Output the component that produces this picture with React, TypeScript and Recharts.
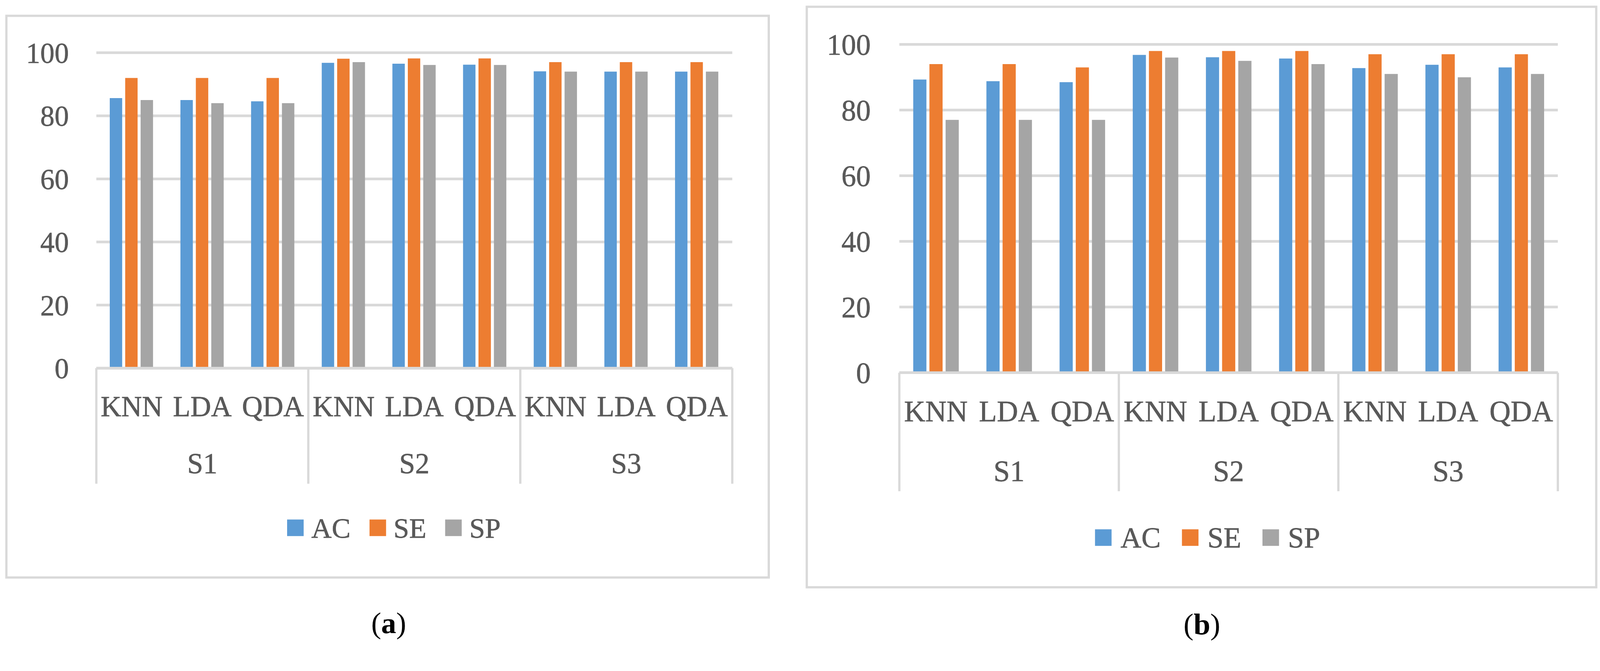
import React from "react";
import { BarChart, Bar, XAxis, YAxis, CartesianGrid, Legend } from "recharts";

const groups = ["S1", "S2", "S3"];
const models = ["KNN", "LDA", "QDA"];
const yTicks = [0, 20, 40, 60, 80, 100];
const seriesNames = ["AC", "SE", "SP"];
const seriesColors = ["#5b9bd5", "#ed7d31", "#a5a5a5"];

// panel (a)
const acA = [85.6, 85.0, 84.6, 96.8, 96.5, 96.2, 94.1, 94.0, 94.0];
const seA = [92, 92, 92, 98.1, 98.2, 98.2, 97, 97, 97];
const spA = [85, 84, 84, 97, 96.1, 96.1, 94, 94, 94];

// panel (b)
const acB = [89.3, 88.8, 88.5, 96.8, 96.1, 95.7, 92.8, 93.8, 93.0];
const seB = [94, 94, 93, 98, 98, 98, 97, 97, 97];
const spB = [77, 77, 77, 96, 95, 94, 91, 90, 91];

const GRID = "#d9d9d9";
const TEXT = "#595959";
const FONT = "'Liberation Serif', 'Times New Roman', serif";
const PAGE_W = 4252;
const PAGE_H = 1717;

function buildRows(ac: number[], se: number[], sp: number[]) {
  return groups.flatMap((g, gi) =>
    models.map((m, mi) => {
      const i = gi * models.length + mi;
      return { group: g, model: m, AC: ac[i], SE: se[i], SP: sp[i] };
    })
  );
}

type Cfg = {
  box: { left: number; top: number; width: number; height: number };
  margin: { top: number; right: number; bottom: number; left: number };
  yWidth: number;
  yTickMargin: number;
  xHeight: number;
  fontSize: number;
  legendFont: number;
  rowY: number;
  groupY: number;
  sepLen: number;
  legendY: number;
  legendShift: number;
  legendGap: number;
  legendTextGap: number;
  caption: string;
  captionX: number;
  captionY: number;
};

const cfgA: Cfg = {
  box: { left: 14, top: 39, width: 2032, height: 1498 },
  margin: { top: 101, right: 100, bottom: 229, left: 0 },
  yWidth: 242,
  yTickMargin: 73,
  xHeight: 330,
  fontSize: 76,
  legendFont: 75,
  rowY: 102,
  groupY: 254,
  sepLen: 307,
  legendY: 1363,
  legendShift: 17,
  legendGap: 50,
  legendTextGap: 20,
  caption: "a",
  captionX: 1033,
  captionY: 1655,
};

const cfgB: Cfg = {
  box: { left: 2141, top: 15, width: 2104, height: 1548 },
  margin: { top: 103, right: 105, bottom: 243, left: 0 },
  yWidth: 249,
  yTickMargin: 76,
  xHeight: 330,
  fontSize: 78,
  legendFont: 77,
  rowY: 103,
  groupY: 261,
  sepLen: 315,
  legendY: 1413,
  legendShift: 16,
  legendGap: 56,
  legendTextGap: 24,
  caption: "b",
  captionX: 3194,
  captionY: 1658,
};

function Panel({ rows, cfg }: { rows: ReturnType<typeof buildRows>; cfg: Cfg }) {
  const { box, margin } = cfg;
  const plotWidth = box.width - cfg.yWidth - margin.left - margin.right;
  const band = plotWidth / rows.length;
  const perGroup = models.length;

  const renderTick = (p: any) => {
    const { x, y, index, payload } = p;
    const pos = index % perGroup;
    const txt = {
      textAnchor: "middle" as const,
      dominantBaseline: "central" as const,
      fill: TEXT,
      stroke: TEXT,
      strokeWidth: 0.8,
      fontSize: cfg.fontSize,
      fontFamily: FONT,
    };
    return (
      <g>
        <text x={x} y={y + cfg.rowY} {...txt}>
          {payload.value}
        </text>
        {pos === Math.floor(perGroup / 2) && (
          <text x={x} y={y + cfg.groupY} {...txt}>
            {rows[index].group}
          </text>
        )}
        {pos === 0 && (
          <line x1={x - band / 2} x2={x - band / 2} y1={y} y2={y + cfg.sepLen} stroke={GRID} strokeWidth={6} />
        )}
        {index === rows.length - 1 && (
          <line x1={x + band / 2} x2={x + band / 2} y1={y} y2={y + cfg.sepLen} stroke={GRID} strokeWidth={6} />
        )}
      </g>
    );
  };

  const renderLegend = (p: any) => (
    <div
      style={{
        display: "flex",
        justifyContent: "center",
        alignItems: "center",
        width: "100%",
        height: "100%",
        boxSizing: "border-box",
        paddingLeft: cfg.legendShift * 2,
      }}
    >
      {(p.payload ?? []).map((item: any, i: number) => (
        <div key={item.value} style={{ display: "flex", alignItems: "center", marginLeft: i ? cfg.legendGap : 0 }}>
          <span
            style={{
              display: "inline-block",
              width: 44,
              height: 44,
              background: item.color,
              marginRight: cfg.legendTextGap,
            }}
          />
          <span
            style={{
              fontFamily: FONT,
              fontSize: cfg.legendFont,
              color: TEXT,
              lineHeight: 1,
              WebkitTextStroke: `0.8px ${TEXT}`,
            }}
          >
            {item.value}
          </span>
        </div>
      ))}
    </div>
  );

  return (
    <>
      <div
        style={{
          position: "absolute",
          left: box.left,
          top: box.top,
          width: box.width,
          height: box.height,
          border: `6px solid ${GRID}`,
          boxSizing: "border-box",
        }}
      />
      <div style={{ position: "absolute", left: box.left, top: box.top }}>
        <BarChart
          width={box.width}
          height={box.height}
          data={rows}
          margin={margin}
          barCategoryGap="19%"
          barGap={8}
        >
          <CartesianGrid vertical={false} stroke={GRID} strokeWidth={7} />
          <XAxis
            dataKey="model"
            interval={0}
            height={cfg.xHeight}
            tickSize={0}
            tickMargin={0}
            tickLine={false}
            axisLine={{ stroke: GRID, strokeWidth: 7 }}
            tick={renderTick}
          />
          <YAxis
            domain={[0, 100]}
            ticks={yTicks}
            width={cfg.yWidth}
            axisLine={false}
            tickLine={false}
            tickSize={0}
            tickMargin={cfg.yTickMargin}
            tick={{ fill: TEXT, stroke: TEXT, strokeWidth: 0.8, fontSize: cfg.fontSize, fontFamily: FONT }}
          />
          <Legend
            layout="horizontal"
            align="center"
            verticalAlign="middle"
            wrapperStyle={{ left: 0, top: cfg.legendY - 40, width: box.width, height: 80 }}
            content={renderLegend}
          />
          {seriesNames.map((s, i) => (
            <Bar key={s} dataKey={s} name={s} fill={seriesColors[i]} isAnimationActive={false} />
          ))}
        </BarChart>
      </div>
      <div
        style={{
          position: "absolute",
          left: cfg.captionX - 150,
          top: cfg.captionY - 40,
          width: 300,
          height: 80,
          lineHeight: "80px",
          textAlign: "center",
          fontFamily: FONT,
          fontSize: 80,
          color: "#000",
        }}
      >
        (<b>{cfg.caption}</b>)
      </div>
    </>
  );
}

export default function App() {
  const rowsA = buildRows(acA, seA, spA);
  const rowsB = buildRows(acB, seB, spB);
  // fit the figure into whatever CSS viewport the page actually has
  const scale =
    typeof window !== "undefined"
      ? Math.min(window.innerWidth / PAGE_W, window.innerHeight / PAGE_H, 1)
      : 1;
  return (
    <div
      style={{
        position: "absolute",
        left: 0,
        top: 0,
        width: PAGE_W,
        height: PAGE_H,
        background: "#fff",
        overflow: "hidden",
        transform: `scale(${scale})`,
        transformOrigin: "0 0",
      }}
    >
      <Panel rows={rowsA} cfg={cfgA} />
      <Panel rows={rowsB} cfg={cfgB} />
    </div>
  );
}
